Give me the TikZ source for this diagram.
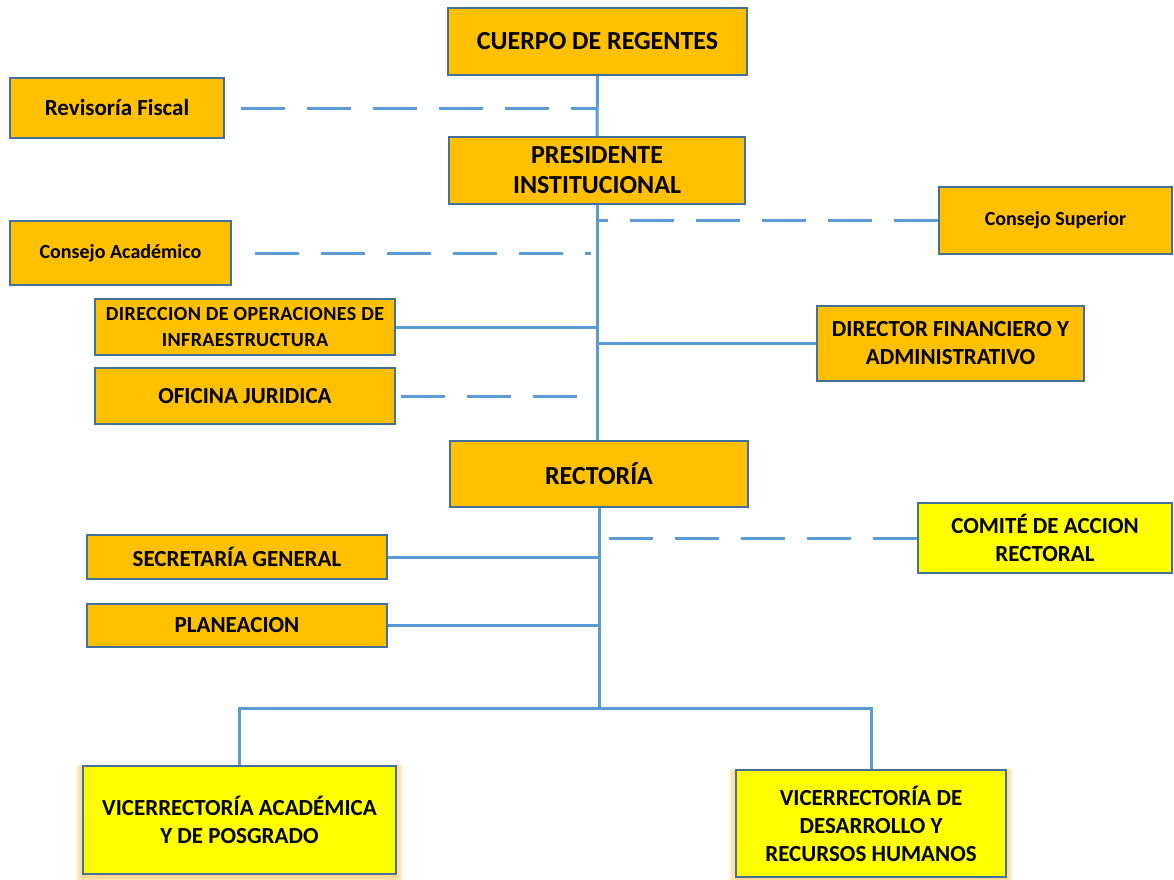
\documentclass[tikz,border=0pt]{standalone}
\usepackage{fontspec}
\setmainfont{Carlito}
\usetikzlibrary{positioning}
\definecolor{orgfill}{HTML}{FFC000}
\definecolor{yelfill}{HTML}{FFFF00}
\definecolor{boxline}{HTML}{41719C}
\definecolor{conn}{HTML}{5B9BD5}
\definecolor{glow}{HTML}{FFB020}
\tikzset{
  box/.style={draw=boxline, line width=2pt, fill=orgfill, inner sep=0pt, align=center, font=\bfseries\fontsize{23}{28}\selectfont},
  bigbox/.style={box, font=\bfseries\fontsize{26}{30}\selectfont},
  smallbox/.style={box, font=\bfseries\fontsize{20}{26}\selectfont},
  yelbox/.style={box, fill=yelfill},
  solidconn/.style={draw=conn, line width=3pt},
  dashconn/.style={draw=conn, line width=3pt, dash pattern=on 44pt off 22pt},
}
\newcommand{\glowbox}[4]{% cx, cy, w, h
  \foreach \g in {1,...,6}{
    \fill[glow, opacity=0.10] ({#1-#3/2-\g*1.2},{#2-#4/2-\g*0.6+2}) rectangle ({#1+#3/2+\g*1.2},{#2+#4/2+\g*1.5+2});
  }
}
\begin{document}
\begin{tikzpicture}[x=1pt,y=-1pt]
\useasboundingbox (0,0) rectangle (1174,879);
\fill[white] (0,0) rectangle (1174,879);

% glows
\glowbox{239.5}{820}{313}{108}
\glowbox{871}{823.5}{270}{107}

% nodes
\node[bigbox, minimum width=299pt, minimum height=67pt] (cuerpo) at (597.5,41.5) {CUERPO DE REGENTES};
\node[box, minimum width=214pt, minimum height=60pt] (rev) at (117,108) {Revisoría Fiscal};
\node[bigbox, minimum width=296pt, minimum height=67pt] (pres) at (597,170.5) {PRESIDENTE\\INSTITUCIONAL};
\node[smallbox, minimum width=233pt, minimum height=67pt] (csup) at (1055.5,220.5) {Consejo Superior};
\node[smallbox, minimum width=221pt, minimum height=64pt] (cacad) at (120.5,253) {Consejo Académico};
\node[smallbox, minimum width=300pt, minimum height=56pt, font=\bfseries\fontsize{20}{26}\addfontfeature{LetterSpace=2}\selectfont] (dirop) at (245,327) {DIRECCION DE OPERACIONES DE\\INFRAESTRUCTURA};
\node[box, minimum width=267pt, minimum height=75pt] (dirfin) at (950.5,343.5) {DIRECTOR FINANCIERO Y\\ADMINISTRATIVO};
\node[box, minimum width=300pt, minimum height=56pt] (ofi) at (245,396) {OFICINA JURIDICA};
\node[bigbox, minimum width=298pt, minimum height=66pt] (rect) at (599,474) {RECTORÍA};
\node[yelbox, minimum width=254pt, minimum height=70pt] (comite) at (1045,538) {COMITÉ DE ACCION\\RECTORAL};
\node[box, minimum width=300pt, minimum height=44pt] (sec) at (237,557) {SECRETARÍA GENERAL};
\node[box, minimum width=300pt, minimum height=43pt] (plan) at (237,625.5) {PLANEACION};
\node[yelbox, minimum width=313pt, minimum height=108pt] (vacad) at (239.5,820) {VICERRECTORÍA ACADÉMICA\\Y DE POSGRADO};
\node[yelbox, minimum width=270pt, minimum height=107pt] (vdes) at (871,823.5) {VICERRECTORÍA DE\\DESARROLLO Y\\RECURSOS HUMANOS};

\coordinate (bus) at (598,708);

% spine
\draw[solidconn] (cuerpo.south) -- (pres.north);
\draw[solidconn] (pres.south) -- (pres.south |- rect.north);
\draw[solidconn] (rect.south) -- (rect.south |- bus);
\draw[solidconn] (vacad.north) -- (vacad.north |- bus) -- (vdes.north |- bus) -- (vdes.north);

% dashed links
\draw[dashconn, shorten <=16pt] (rev.east) -- (rev.east -| cuerpo.south);
\draw[dashconn] (csup.west) -- (csup.west -| pres.south);
\draw[dashconn, shorten <=23pt, shorten >=6pt] (cacad.east) -- (cacad.east -| pres.south);
\draw[dashconn, shorten <=5pt, shorten >=6pt] (ofi.east) -- (ofi.east -| pres.south);
\draw[dashconn] (comite.west) -- (comite.west -| rect.south);

% solid links
\draw[solidconn] (dirop.east) -- (dirop.east -| pres.south);
\draw[solidconn] (dirfin.west) -- (dirfin.west -| pres.south);
\draw[solidconn] (sec.east) -- (sec.east -| rect.south);
\draw[solidconn] (plan.east) -- (plan.east -| rect.south);
\end{tikzpicture}
\end{document}
